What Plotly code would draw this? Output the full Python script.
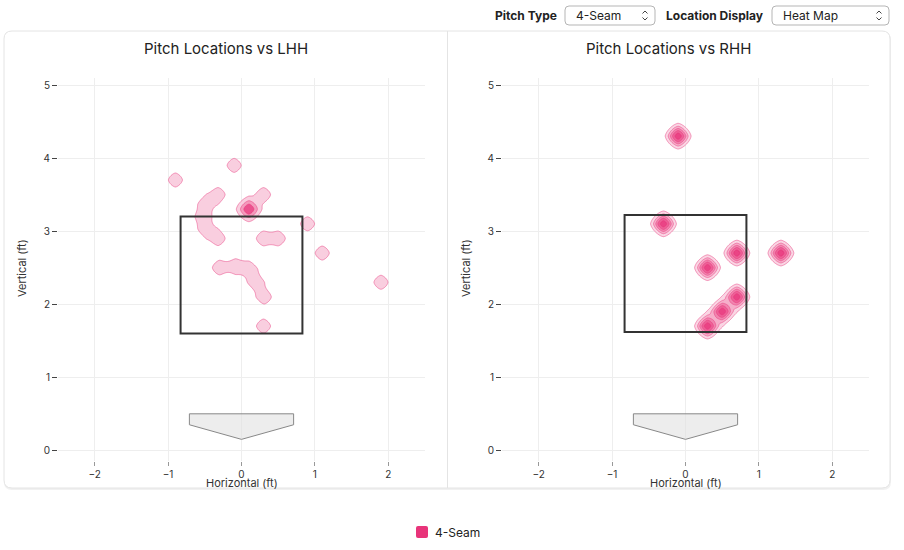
import numpy as np
import plotly.graph_objects as go

# pitch locations (ft)
lhh_x = [-0.9, -0.1, -0.32, -0.48, -0.53, -0.48, -0.32, 0.1, 0.1, 0.1, 0.3,
         0.9, 0.3, 0.5, 1.1, -0.3, -0.08, 0.1, 0.2, 0.31, 1.9, 0.3]
lhh_y = [3.7, 3.9, 3.5, 3.37, 3.2, 3.03, 2.9, 3.3, 3.3, 3.3, 3.5,
         3.1, 2.9, 2.9, 2.7, 2.5, 2.52, 2.48, 2.3, 2.1, 2.3, 1.7]
rhh_x = [-0.1, -0.3, 0.7, 1.3, 0.3, 0.7, 0.5, 0.3]
rhh_y = [4.3, 3.1, 2.7, 2.7, 2.5, 2.1, 1.9, 1.7]

# strike zones per batter side (ft)
zone_lhh = [-0.83, 0.83, 1.6, 3.2]
zone_rhh = [-0.83, 0.83, 1.62, 3.22]

# home plate outline (ft)
plate_x = [-0.71, 0.71, 0.71, 0, -0.71]
plate_y = [0.5, 0.5, 0.35, 0.15, 0.35]

pitch_name = "4-Seam"
titles = ["Pitch Locations vs LHH", "Pitch Locations vs RHH"]

W, H = 904, 550
PINK = (232, 52, 122)
FONT = "Inter, Roboto, sans-serif"


def fx(px):
    return px / W


def fy(py):
    return 1 - py / H


def density(xs, ys, gx, gy, h=0.095, p=1.5):
    X, Y = np.meshgrid(gx, gy)
    z = np.zeros_like(X)
    for x0, y0 in zip(xs, ys):
        d = (np.abs(X - x0) ** p + np.abs(Y - y0) ** p) ** (1 / p)
        z += np.exp(-0.5 * (d / h) ** 2)
    return z.astype(np.float32)


def level_colors(alphas):
    # one colour per band above each contour level, transparent below the first
    n = len(alphas)
    scale = [[0, "rgba(255,255,255,0)"]]
    for k, al in enumerate(alphas, 1):
        c = [round(255 - al * (255 - v)) for v in PINK]
        scale.append([k / n, "rgb(%d,%d,%d)" % tuple(c)])
    return scale


gx = np.arange(-1.4, 2.4, 0.008)
gy = np.arange(1.2, 4.7, 0.008)

fig = go.Figure()

panels = [
    dict(xs=lhh_x, ys=lhh_y, zone=zone_lhh, start=0.6, size=0.85,
         alphas=[0.24, 0.5, 0.85], ax=""),
    dict(xs=rhh_x, ys=rhh_y, zone=zone_rhh, start=0.18, size=0.18,
         alphas=[0.2, 0.4, 0.6, 0.78, 0.92], ax="2"),
]

for p in panels:
    z = density(p["xs"], p["ys"], gx, gy)
    n = len(p["alphas"])
    fig.add_trace(go.Contour(
        x=gx, y=gy, z=z,
        xaxis="x" + p["ax"], yaxis="y" + p["ax"],
        autocontour=False,
        contours=dict(start=p["start"], size=p["size"], end=p["start"] + p["size"] * (n - 1),
                      coloring="fill", showlines=True),
        colorscale=level_colors(p["alphas"]),
        line=dict(color="rgba(232,52,122,0.6)", width=0.8),
        showscale=False, hoverinfo="skip", showlegend=False,
    ))
    x0, x1, y0, y1 = p["zone"]
    fig.add_shape(type="rect", xref="x" + p["ax"], yref="y" + p["ax"],
                  x0=x0, x1=x1, y0=y0, y1=y1,
                  line=dict(color="#333333", width=2), layer="above")
    path = "M" + " L".join("%g,%g" % (a, b) for a, b in zip(plate_x, plate_y)) + " Z"
    fig.add_shape(type="path", xref="x" + p["ax"], yref="y" + p["ax"], path=path,
                  fillcolor="rgba(225,225,225,0.6)",
                  line=dict(color="#888888", width=1), layer="above")


def rounded(x0, y0, x1, y1, r):
    return ("M{a},{y0} L{b},{y0} Q{x1},{y0} {x1},{c} L{x1},{d} Q{x1},{y1} {b},{y1} "
            "L{a},{y1} Q{x0},{y1} {x0},{d} L{x0},{c} Q{x0},{y0} {a},{y0} Z").format(
        a=fx(x0 + r), b=fx(x1 - r), c=fy(y0 + r), d=fy(y1 - r),
        x0=fx(x0), x1=fx(x1), y0=fy(y0), y1=fy(y1))


def text(x, y, s, size, color="#222", **kw):
    fig.add_annotation(x=fx(x), y=fy(y), xref="paper", yref="paper", text=s, showarrow=False,
                       xanchor=kw.pop("xanchor", "center"), yanchor="middle",
                       font=dict(size=size, color=color, family=FONT), **kw)


# card background, shadow and divider
fig.add_shape(type="path", xref="paper", yref="paper", path=rounded(4, 32, 891, 490, 8),
              fillcolor="#f1f1f1", line=dict(width=0), layer="below")
fig.add_shape(type="path", xref="paper", yref="paper", path=rounded(4, 31, 890, 488, 8),
              fillcolor="white", line=dict(color="#e4e4e4", width=1), layer="below")
fig.add_shape(type="line", xref="paper", yref="paper", x0=fx(447.5), x1=fx(447.5),
              y0=fy(31), y1=fy(488), line=dict(color="#e4e4e4", width=1), layer="below")

# top controls
for x0, x1, label, val in [(565, 655, "Pitch Type", "4-Seam"),
                           (772, 889, "Location Display", "Heat Map")]:
    fig.add_shape(type="path", xref="paper", yref="paper", path=rounded(x0, 6, x1, 25, 4),
                  fillcolor="white", line=dict(color="#b5b5b5", width=1))
    text(x0 - 6, 15.5, "<b>%s</b>" % label, 12, xanchor="right")
    text(x0 + 9, 16, val, 12, xanchor="left")
    cx = x1 - 10
    for a, b in [(13.5, 11), (17.5, 20)]:
        fig.add_shape(type="path", xref="paper", yref="paper",
                      path="M%f,%f L%f,%f L%f,%f" % (fx(cx - 2.5), fy(a), fx(cx), fy(b), fx(cx + 2.5), fy(a)),
                      line=dict(color="#444", width=1))

# panel titles and axis titles
for cx, pcx, vx, t in [(226, 241.5, 22, titles[0]), (668.5, 685.5, 466, titles[1])]:
    text(cx, 48, t, 15)
    text(pcx, 482.5, "Horizontal (ft)", 11, color="#333")
    text(vx, 268, "Vertical (ft)", 11, color="#333", textangle=-90)

# legend
fig.add_shape(type="path", xref="paper", yref="paper", path=rounded(416, 526, 428, 538, 2),
              fillcolor="rgb(232,52,122)", line=dict(width=0))
text(433, 532, pitch_name, 12, xanchor="left")

xax = dict(range=[-2.5, 2.5], tickvals=[-2, -1, 0, 1, 2], showgrid=True, gridcolor="#eeeeee",
           zeroline=False, ticks="outside", ticklen=4, tickcolor="#999", showline=False,
           tickfont=dict(size=10, color="#333", family=FONT), fixedrange=True)
yax = dict(range=[-0.146, 5.096], tickvals=[0, 1, 2, 3, 4, 5], showgrid=True, gridcolor="#eeeeee",
           zeroline=False, ticks="outside", ticklen=5, tickcolor="#444", showline=False,
           tickfont=dict(size=10, color="#333", family=FONT), fixedrange=True,
           domain=[fy(461), fy(78)])

fig.update_layout(
    width=W, height=H,
    margin=dict(l=0, r=0, t=0, b=0),
    paper_bgcolor="white", plot_bgcolor="rgba(0,0,0,0)",
    xaxis=dict(xax, domain=[fx(58), fx(425)], anchor="y"),
    yaxis=dict(yax, anchor="x"),
    xaxis2=dict(xax, domain=[fx(502), fx(869)], anchor="y2"),
    yaxis2=dict(yax, anchor="x2"),
    showlegend=False,
    font=dict(family=FONT),
)

fig.write_html("out.html", config={"displayModeBar": False},
               post_script="document.body.style.margin='0';")
